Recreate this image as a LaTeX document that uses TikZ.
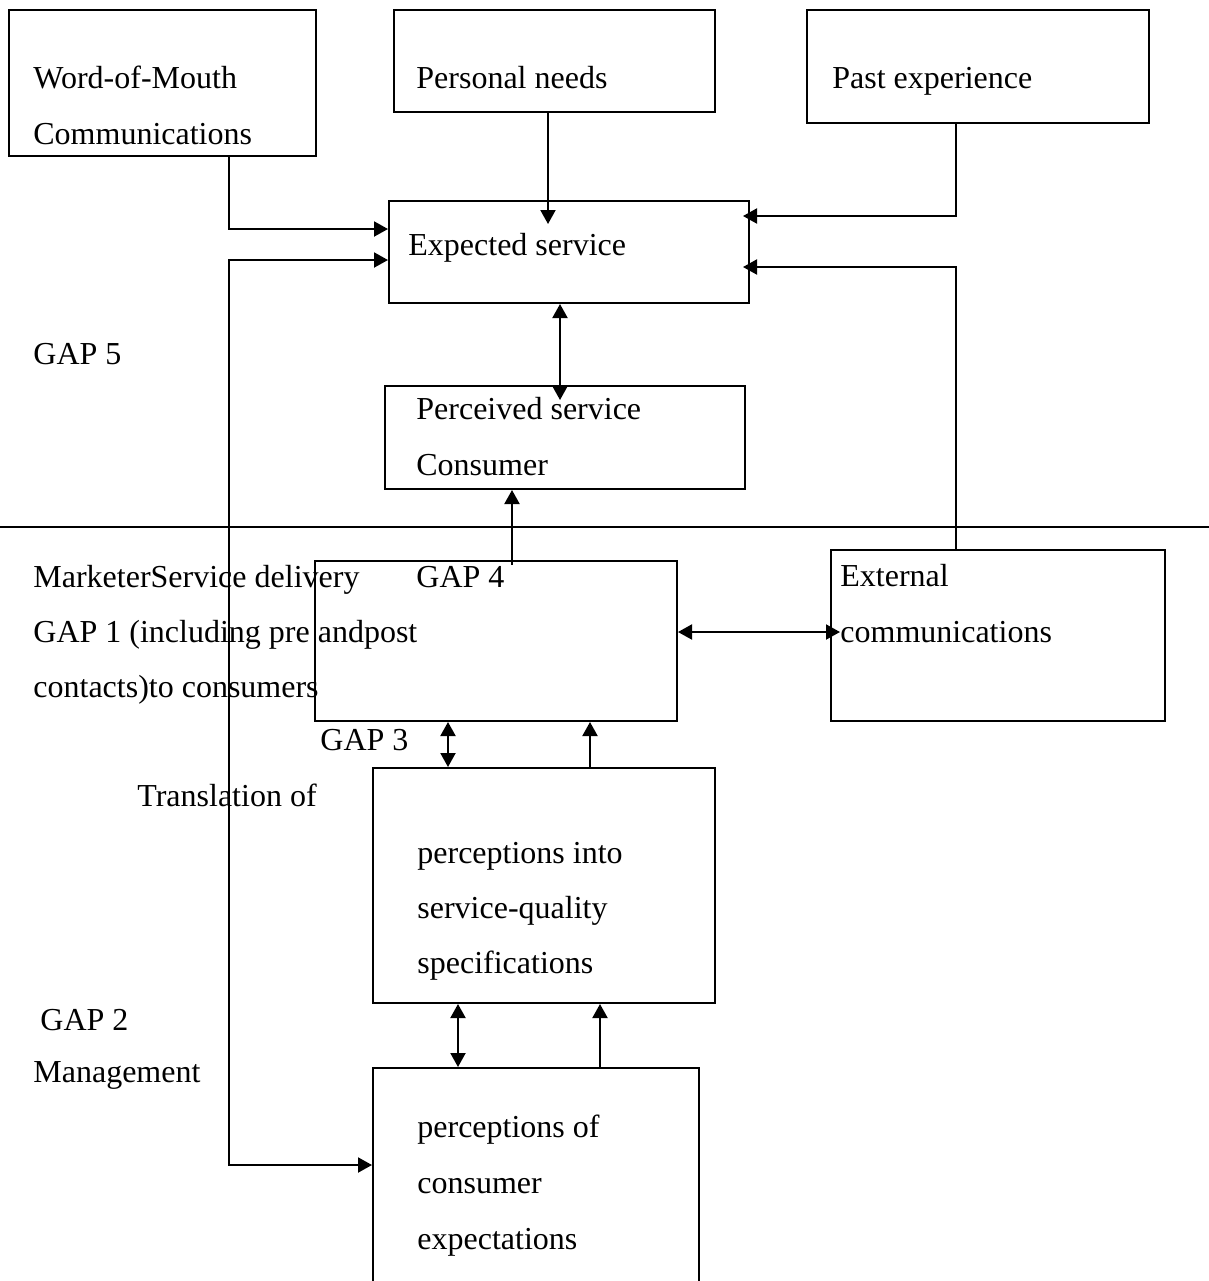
\documentclass[tikz,border=0pt]{standalone}
\usepackage{fontspec}
\setmainfont{Liberation Serif}
\usetikzlibrary{arrows.meta}
\begin{document}
\begin{tikzpicture}[x=0.5pt,y=-0.5pt,
  box/.style={draw, line width=1pt, anchor=north west, inner sep=0pt},
  lbl/.style={anchor=base west, inner sep=0pt, font=\fontsize{16}{19}\selectfont},
  con/.style={line width=1pt},
  tip/.style={-{Triangle[length=7pt,width=7.5pt]}},
  dbl/.style={{Triangle[length=7pt,width=7.5pt]}-{Triangle[length=7pt,width=7.5pt]}}
]
\useasboundingbox (0,0) rectangle (1209,1281);
% boxes
\node[box, minimum width=153.5pt, minimum height=73pt] (wom) at (8,9) {};
\node[box, minimum width=160.5pt, minimum height=51pt] (pn) at (393,9) {};
\node[box, minimum width=171pt, minimum height=56.5pt] (pe) at (806,9) {};
\node[box, minimum width=180pt, minimum height=51pt] (es) at (388,200) {};
\node[box, minimum width=180pt, minimum height=51.5pt] (ps) at (384,385) {};
\node[box, minimum width=181pt, minimum height=80pt] (sd) at (314,560) {};
\node[box, minimum width=167pt, minimum height=85.5pt] (ec) at (830,549) {};
\node[box, minimum width=171pt, minimum height=117.5pt] (tr) at (372,767) {};
\node[box, minimum width=163pt, minimum height=120pt] (mg) at (372,1067) {};
% separator
\coordinate (sepL) at (0,527);
\coordinate (sepR) at (1209,527);
\draw[con] (sepL) -- (sepR);
% texts
\node[lbl] (t1) at (33,88) {Word-of-Mouth};
\node[lbl] (t2) at (33,144) {Communications};
\node[lbl] (t3) at (416,88) {Personal needs};
\node[lbl] (t4) at (832,88) {Past experience};
\node[lbl] (t5) at (408,255) {Expected service};
\node[lbl] (t6) at (33,364) {GAP 5};
\node[lbl] (t7) at (416,419) {Perceived service};
\node[lbl] (t8) at (416,475) {Consumer};
\node[lbl] (t9) at (33,587) {MarketerService delivery};
\node[lbl] (t10) at (416,587) {GAP 4};
\node[lbl] (t11) at (33,642) {GAP 1 (including pre andpost};
\node[lbl] (t12) at (33,697) {contacts)to consumers};
\node[lbl] (t13) at (840,586) {External};
\node[lbl] (t14) at (840,642) {communications};
\node[lbl] (t15) at (320,750) {GAP 3};
\node[lbl] (t16) at (137,806) {Translation of};
\node[lbl] (t17) at (417,863) {perceptions into};
\node[lbl] (t18) at (417,918) {service-quality};
\node[lbl] (t19) at (417,973) {specifications};
\node[lbl] (t20) at (40,1030) {GAP 2};
\node[lbl] (t21) at (33,1082) {Management};
\node[lbl] (t22) at (417,1137) {perceptions of};
\node[lbl] (t23) at (417,1193) {consumer};
\node[lbl] (t24) at (417,1249) {expectations};
% connectors
\draw[con,tip] (229,0 |- wom.south) |- (es.west |- 0,229);
\draw[con,tip] (548,0 |- pn.south) -- (548,224);
\draw[con,tip] (956,0 |- pe.south) |- (743,216);
\draw[con,tip] (956,0 |- ec.north) |- (743,267);
\draw[con,dbl] (es.west |- 0,260) -| (229,1165) -- (mg.west |- 0,1165);
\draw[con,dbl] (560,0 |- es.south) -- (560,400);
\draw[con,tip] (512,565) -- (512,0 |- ps.south);
\draw[con,dbl] (sd.east |- 0,632) -- (840,632);
\draw[con,dbl] (448,0 |- sd.south) -- (448,0 |- tr.north);
\draw[con,tip] (590,0 |- tr.north) -- (590,0 |- sd.south);
\draw[con,dbl] (458,0 |- mg.north) -- (458,0 |- tr.south);
\draw[con,tip] (600,0 |- mg.north) -- (600,0 |- tr.south);
\end{tikzpicture}
\end{document}
